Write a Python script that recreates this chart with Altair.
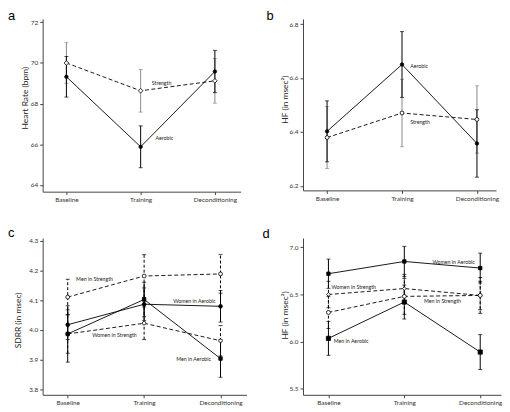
import json
import altair as alt
import pandas as pd

phases = ["Baseline", "Training", "Deconditioning"]

# ---- panel a: heart rate (bpm)
a_groups = ["Aerobic", "Strength"]
a_programs = ["Aerobic", "Strength"]
a_aerobic = [69.32, 65.87, 69.58]
a_aerobic_err = [1.00, 1.03, 1.04]
a_strength = [70.00, 68.63, 69.12]
a_strength_err = [1.00, 1.05, 1.10]
a_yticks = [64, 66, 68, 70, 72]
a_labels = ["Strength", "Aerobic"]
a_label_x = [1.15, 1.20]
a_label_y = [69.02, 66.29]

# ---- panel b: HF (in msec^2)
b_groups = ["Aerobic", "Strength"]
b_programs = ["Aerobic", "Strength"]
b_aerobic = [6.402, 6.650, 6.357]
b_aerobic_err = [0.113, 0.122, 0.125]
b_strength = [6.379, 6.470, 6.446]
b_strength_err = [0.115, 0.125, 0.125]
b_yticks = [6.2, 6.4, 6.6, 6.8]
b_labels = ["Aerobic", "Strength"]
b_label_x = [1.11, 1.11]
b_label_y = [6.643, 6.435]

# ---- panel c: SDRR (in msec), by sex
c_groups = ["Men in Strength", "Women in Aerobic", "Women in Strength", "Men in Aerobic"]
c_programs = ["Strength", "Aerobic", "Strength", "Aerobic"]
c_men_strength = [4.110, 4.181, 4.188]
c_men_strength_err = [0.060, 0.072, 0.065]
c_women_aerobic = [4.017, 4.086, 4.079]
c_women_aerobic_err = [0.050, 0.055, 0.053]
c_women_strength = [3.986, 4.022, 3.963]
c_women_strength_err = [0.065, 0.055, 0.051]
c_men_aerobic = [3.986, 4.102, 3.903]
c_men_aerobic_err = [0.095, 0.058, 0.063]
c_yticks = [3.8, 3.9, 4.0, 4.1, 4.2, 4.3]
c_labels = ["Men in Strength", "Women in Aerobic", "Women in Strength", "Men in Aerobic"]
c_label_x = [0.11, 1.38, 0.32, 1.42]
c_label_y = [4.170, 4.097, 3.983, 3.903]

# ---- panel d: HF (in msec^2), by sex
d_groups = ["Women in Aerobic", "Women in Strength", "Men in Strength", "Men in Aerobic"]
d_programs = ["Aerobic", "Strength", "Strength", "Aerobic"]
d_women_aerobic = [6.72, 6.85, 6.78]
d_women_aerobic_err = [0.155, 0.160, 0.158]
d_women_strength = [6.50, 6.563, 6.49]
d_women_strength_err = [0.140, 0.150, 0.150]
d_men_strength = [6.31, 6.48, 6.49]
d_men_strength_err = [0.170, 0.190, 0.190]
d_men_aerobic = [6.035, 6.42, 5.89]
d_men_aerobic_err = [0.180, 0.180, 0.185]
d_yticks = [5.5, 6.0, 6.5, 7.0]
d_labels = ["Women in Aerobic", "Women in Strength", "Men in Strength", "Men in Aerobic"]
d_label_x = [1.37, 0.04, 1.26, 0.07]
d_label_y = [6.849, 6.584, 6.430, 6.007]


def long_df(groups, programs, means, errs):
    rows = []
    for g, p, m, e in zip(groups, programs, means, errs):
        for i in range(len(phases)):
            rows.append({"idx": i, "phase": phases[i], "group": g, "program": p,
                         "mean": m[i], "lo": m[i] - e[i], "hi": m[i] + e[i]})
    return pd.DataFrame(rows)


label_expr = json.dumps(phases) + "[datum.value]"
FONT = "Lato"


def panel(df, labels, lx, ly, letter, letter_dx, letter_dy, ytitle, title_x, title_y,
          ydom, yticks, yfmt, xdom, w, h, shapes, fills, sizes, strength_bar_color, strength_bar_dash):
    def xenc(field):
        return alt.X(field, type="quantitative",
                     scale=alt.Scale(domain=xdom, nice=False, zero=False),
                     axis=alt.Axis(values=[0, 1, 2], labelExpr=label_expr, title=None))

    def yenc(field):
        return alt.Y(field, type="quantitative",
                     scale=alt.Scale(domain=ydom, nice=False, zero=False),
                     axis=alt.Axis(values=yticks, format=yfmt, title=ytitle,
                                   titleX=title_x, titleY=title_y))

    base = alt.Chart(df)
    aer = base.transform_filter(alt.datum.program == "Aerobic")
    strg = base.transform_filter(alt.datum.program == "Strength")

    layers = []
    # connecting lines
    layers.append(aer.mark_line(strokeWidth=0.9, color="black").encode(
        x=xenc("idx"), y=yenc("mean"), detail="group:N"))
    layers.append(strg.mark_line(strokeWidth=0.9, color="black", strokeDash=[4, 2.5]).encode(
        x=xenc("idx"), y=yenc("mean"), detail="group:N"))
    # error bars with caps
    for src, col, dsh in [(strg, strength_bar_color, strength_bar_dash), (aer, "black", None)]:
        rule_kw = dict(strokeWidth=1, color=col)
        if dsh:
            rule_kw["strokeDash"] = dsh
        layers.append(src.mark_rule(**rule_kw).encode(
            x=xenc("idx"), y=yenc("lo"), y2=alt.Y2("hi")))
        layers.append(src.transform_fold(["lo", "hi"], as_=["end", "val"]).mark_tick(
            orient="horizontal", size=4, thickness=1, color=col).encode(
            x=xenc("idx"), y=yenc("val")))
    groups = list(dict.fromkeys(df["group"]))
    layers.append(base.mark_point(filled=False, strokeWidth=0.8, opacity=1, stroke="black").encode(
        x=xenc("idx"), y=yenc("mean"),
        shape=alt.Shape("group:N", scale=alt.Scale(domain=groups, range=shapes), legend=None),
        fill=alt.Fill("group:N", scale=alt.Scale(domain=groups, range=fills), legend=None),
        size=alt.Size("group:N", scale=alt.Scale(domain=groups, range=sizes), legend=None),
        fillOpacity=alt.value(1)))
    ann_df = pd.DataFrame({"label": labels, "x": lx, "y": ly})
    layers.append(alt.Chart(ann_df).mark_text(align="left", baseline="middle", fontSize=5.3,
                                              font=FONT, color="#222").encode(
        x=xenc("x"), y=yenc("y"), text="label:N"))
    return alt.layer(*layers).properties(
        width=w, height=h,
        title=alt.TitleParams(letter, anchor="start", frame="group", dx=letter_dx, dy=letter_dy,
                              fontSize=13, font="Liberation Sans", fontWeight="normal",
                              color="black", offset=0, baseline="alphabetic"))


pa = panel(long_df(a_groups, a_programs, [a_aerobic, a_strength], [a_aerobic_err, a_strength_err]),
           a_labels, a_label_x, a_label_y, "a", -35, 14.5, "Heart Rate (bpm)", -13.7, 79.5,
           [63.66, 72.17], a_yticks, "d", [-0.32, 2.347], 200, 174.5,
           ["circle", "diamond"], ["black", "white"], [12, 22], "#888", None)
pb = panel(long_df(b_groups, b_programs, [b_aerobic, b_strength], [b_aerobic_err, b_strength_err]),
           b_labels, b_label_x, b_label_y, "b", -37, 14.5, "HF (in msec²)", -14, 81,
           [6.183, 6.819], b_yticks, ".1f", [-0.321, 2.255], 195, 173.2,
           ["circle", "circle"], ["black", "white"], [12, 15], "#888", None)
pc = panel(long_df(c_groups, c_programs,
                   [c_men_strength, c_women_aerobic, c_women_strength, c_men_aerobic],
                   [c_men_strength_err, c_women_aerobic_err, c_women_strength_err, c_men_aerobic_err]),
           c_labels, c_label_x, c_label_y, "c", -35, 12.5, "SDRR (in msec)", -20.4, 82.7,
           [3.781, 4.309], c_yticks, ".1f", [-0.328, 2.341], 206, 158.4,
           ["circle", "circle", "circle", "square"], ["white", "black", "white", "black"],
           [15, 12, 15, 12], "black", [3, 2])
pd_ = panel(long_df(d_groups, d_programs,
                    [d_women_aerobic, d_women_strength, d_men_strength, d_men_aerobic],
                    [d_women_aerobic_err, d_women_strength_err, d_men_strength_err, d_men_aerobic_err]),
            d_labels, d_label_x, d_label_y, "d", -41, 12.5, "HF (in msec²)", -13.7, 77.7,
            [5.437, 7.0986], d_yticks, ".1f", [-0.335, 2.274], 200, 158.4,
            ["square", "diamond", "circle", "square"], ["black", "white", "white", "black"],
            [12, 18, 15, 12], "black", [3, 2])

chart = alt.concat(pa, pb, pc, pd_, columns=2).properties(
    spacing={"row": 46.3, "column": 57},
    bounds="flush",
    align={"row": "all", "column": "none"},
    padding=0,
    background="white",
).resolve_scale(
    shape="independent", fill="independent", size="independent"
).configure_view(stroke=None).configure_axis(
    grid=False, domainColor="#444", tickColor="#444", domainWidth=1, tickWidth=1,
    tickSize=3, labelFont=FONT, labelFontSize=6.5, labelColor="#333", labelPadding=2,
    titleFont=FONT, titleFontSize=8.5, titleFontWeight="normal", titleColor="#222",
)

chart.save("out.html", embed_options={"renderer": "svg", "actions": False})
